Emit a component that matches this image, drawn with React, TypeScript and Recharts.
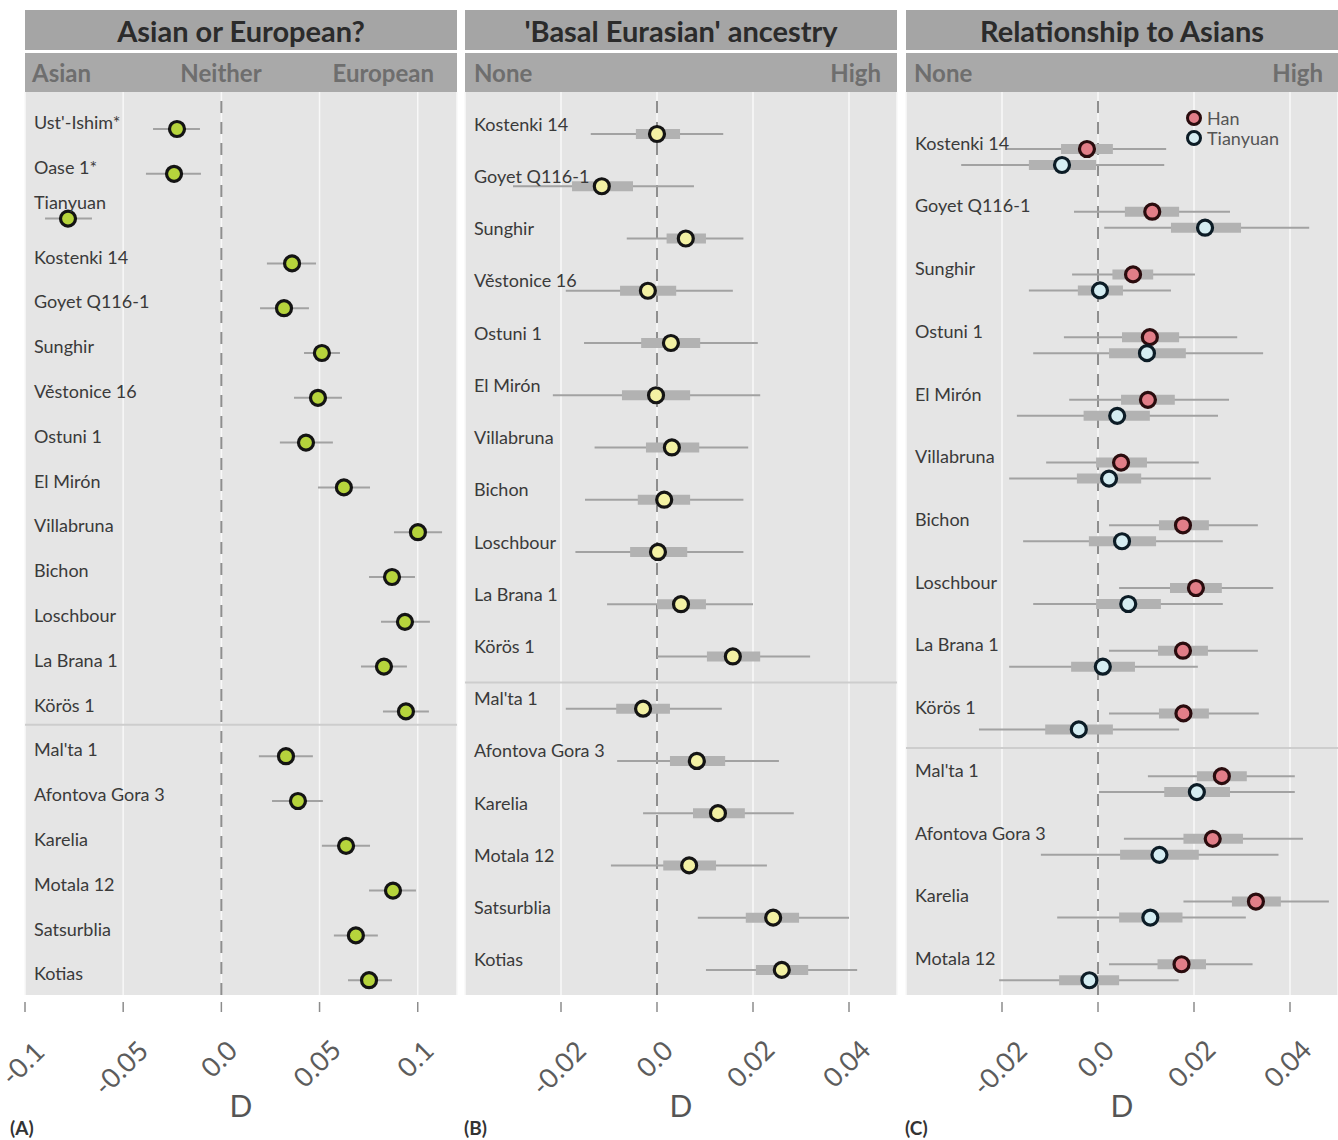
import React from 'react';
import { ScatterChart, Scatter, XAxis, YAxis, CartesianGrid, ReferenceLine, ErrorBar, Legend } from 'recharts';

const FONT = "Lato, 'Open Sans', sans-serif";
const M = 40;
const PLOT_W = 432;
const PLOT_TOP = 92;
const PLOT_H = 903;
const AX_H = 130;

// ---------- Panel A: Asian or European? ----------
const namesA = ["Ust'-Ishim*", 'Oase 1*', 'Tianyuan', 'Kostenki 14', 'Goyet Q116-1', 'Sunghir', 'Věstonice 16', 'Ostuni 1', 'El Mirón', 'Villabruna', 'Bichon', 'Loschbour', 'La Brana 1', 'Körös 1', "Mal'ta 1", 'Afontova Gora 3', 'Karelia', 'Motala 12', 'Satsurblia', 'Kotias'];
const dA = [-0.0226, -0.0241, -0.0781, 0.036, 0.0319, 0.0512, 0.0492, 0.0431, 0.0624, 0.1001, 0.0869, 0.0935, 0.0828, 0.094, 0.0329, 0.039, 0.0635, 0.0874, 0.0685, 0.0752];
const loA = [-0.0348, -0.0384, -0.0898, 0.0232, 0.0197, 0.0421, 0.037, 0.0298, 0.0492, 0.0879, 0.0752, 0.0813, 0.0711, 0.0823, 0.0191, 0.0258, 0.0512, 0.0752, 0.0573, 0.0645];
const hiA = [-0.0109, -0.0104, -0.0659, 0.0482, 0.0446, 0.0604, 0.0614, 0.0568, 0.0757, 0.1124, 0.0986, 0.1062, 0.0945, 0.1057, 0.0466, 0.0517, 0.0757, 0.0991, 0.0797, 0.0869];
const ticksA = [-0.1, -0.05, 0, 0.05, 0.1];
const tickLabelsA = ['-0.1', '-0.05', '0.0', '0.05', '0.1'];

// ---------- Panel B: 'Basal Eurasian' ancestry ----------
const namesB = ['Kostenki 14', 'Goyet Q116-1', 'Sunghir', 'Věstonice 16', 'Ostuni 1', 'El Mirón', 'Villabruna', 'Bichon', 'Loschbour', 'La Brana 1', 'Körös 1', "Mal'ta 1", 'Afontova Gora 3', 'Karelia', 'Motala 12', 'Satsurblia', 'Kotias'];
const dB = [0.0, -0.0115, 0.006, -0.0019, 0.0029, -0.0002, 0.0031, 0.0015, 0.0002, 0.005, 0.0158, -0.0029, 0.0083, 0.0127, 0.0067, 0.0242, 0.026];
const thickLoB = [-0.0044, -0.0177, 0.002, -0.0077, -0.0033, -0.0073, -0.0023, -0.004, -0.0056, 0.0, 0.0104, -0.0085, 0.0027, 0.0075, 0.0013, 0.0185, 0.0206];
const thickHiB = [0.0048, -0.005, 0.0102, 0.004, 0.009, 0.0069, 0.0088, 0.0069, 0.0063, 0.0102, 0.0215, 0.0027, 0.0142, 0.0183, 0.0123, 0.0296, 0.0315];
const thinLoB = [-0.0138, -0.03, -0.0063, -0.019, -0.0152, -0.0217, -0.013, -0.015, -0.017, -0.0104, 0.0, -0.019, -0.0083, -0.0029, -0.0096, 0.0085, 0.0102];
const thinHiB = [0.0138, 0.0077, 0.018, 0.0158, 0.021, 0.0215, 0.019, 0.018, 0.018, 0.02, 0.0319, 0.0135, 0.0254, 0.0285, 0.0229, 0.04, 0.0417];
const ticksBC = [-0.02, 0, 0.02, 0.04];
const tickLabelsBC = ['-0.02', '0.0', '0.02', '0.04'];

// ---------- Panel C: Relationship to Asians ----------
const namesC = ['Kostenki 14', 'Goyet Q116-1', 'Sunghir', 'Ostuni 1', 'El Mirón', 'Villabruna', 'Bichon', 'Loschbour', 'La Brana 1', 'Körös 1', "Mal'ta 1", 'Afontova Gora 3', 'Karelia', 'Motala 12'];
const dHan = [-0.0023, 0.0113, 0.0073, 0.0108, 0.0104, 0.0048, 0.0177, 0.0204, 0.0177, 0.0178, 0.0258, 0.0239, 0.0329, 0.0174];
const thickLoHan = [-0.0077, 0.0056, 0.003, 0.005, 0.0048, -0.0004, 0.0127, 0.015, 0.0125, 0.0127, 0.0206, 0.0178, 0.0279, 0.0124];
const thickHiHan = [0.0031, 0.0169, 0.0115, 0.0169, 0.016, 0.0102, 0.0231, 0.0258, 0.0229, 0.0231, 0.031, 0.0302, 0.0381, 0.0225];
const thinLoHan = [-0.019, -0.005, -0.0054, -0.0071, -0.006, -0.0108, 0.0023, 0.0044, 0.0023, 0.0023, 0.0104, 0.0054, 0.0178, 0.0023];
const thinHiHan = [0.0142, 0.0275, 0.0202, 0.029, 0.0273, 0.021, 0.0333, 0.0365, 0.0333, 0.0335, 0.041, 0.0427, 0.0481, 0.0322];
const dTian = [-0.0075, 0.0223, 0.0004, 0.0102, 0.004, 0.0023, 0.005, 0.0063, 0.001, -0.004, 0.0206, 0.0128, 0.0109, -0.0018];
const thickLoTian = [-0.0144, 0.0152, -0.0042, 0.0023, -0.003, -0.0044, -0.0019, -0.0004, -0.0056, -0.011, 0.0138, 0.0046, 0.0044, -0.0081];
const thickHiTian = [-0.0004, 0.0298, 0.0052, 0.0183, 0.0108, 0.009, 0.0121, 0.0131, 0.0077, 0.0031, 0.0275, 0.021, 0.0176, 0.0044];
const thinLoTian = [-0.0285, 0.0013, -0.0144, -0.0135, -0.0169, -0.0185, -0.0156, -0.0135, -0.0185, -0.0248, 0.0002, -0.0119, -0.0085, -0.0206];
const thinHiTian = [0.0138, 0.044, 0.0152, 0.0344, 0.025, 0.0235, 0.026, 0.026, 0.0208, 0.0169, 0.041, 0.0376, 0.0308, 0.0168];

const seriesNamesC = ['Han', 'Tianyuan'];

// ---------- styles ----------
const COL = {
  strip: '#a5a5a5',
  sub: '#a9a9a9',
  panel: '#e5e5e5',
  thin: '#a2a2a2',
  thick: '#b2b2b2',
  dotA: '#b6d43c',
  dotB: '#f3f1a4',
  han: '#e27e88',
  tian: '#d5edf2',
  ink: '#141414',
};

const buildSimple = (d: number[], lo: number[], hi: number[]) =>
  d.map((v, i) => ({ x: v, y: i, thin: [v - lo[i], hi[i] - v] }));

const buildBox = (d: number[], tLo: number[], tHi: number[], nLo: number[], nHi: number[], shift: number) =>
  d.map((v, i) => ({
    x: v,
    y: i + shift,
    thin: [v - nLo[i], nHi[i] - v],
    thick: [v - tLo[i], tHi[i] - v],
  }));

const rowsA = buildSimple(dA, loA, hiA);
const rowsB = buildBox(dB, thickLoB, thickHiB, thinLoB, thinHiB, 0);
const rowsHan = buildBox(dHan, thickLoHan, thickHiHan, thinLoHan, thinHiHan, 0);
const rowsTian = buildBox(dTian, thickLoTian, thickHiTian, thinLoTian, thinHiTian, 0.255);

const makeXTick = (values: number[], labels: string[]) => (props: any) => {
  const { x, y, payload } = props;
  const idx = values.indexOf(payload.value);
  const label = idx >= 0 ? labels[idx] : String(payload.value);
  const w = label.length * 13;
  const cx = x - 3;
  const cy = y + 44 + (w / 2 + 8) * 0.707;
  return (
    <g>
      <line x1={x} x2={x} y1={y + 7} y2={y + 17} stroke="#8c8c8c" strokeWidth={1.5} />
      <text
        x={cx}
        y={cy}
        transform={`rotate(-45 ${cx} ${cy})`}
        textAnchor="middle"
        dominantBaseline="central"
        fontFamily={FONT}
        fontSize={27}
        fill="#5c5c5c"
      >
        {label}
      </text>
    </g>
  );
};

// label ticks sit a little above each row; extra lift for labels that would touch a point
const makeYTick = (names: string[], offset: number, lift: Record<string, number>) => (props: any) => {
  const { y, payload } = props;
  const idx = Math.round(payload.value + offset);
  const name = names[idx];
  const extra = (lift[name] || 0);
  return (
    <text x={M + 9} y={y - extra} textAnchor="start" dominantBaseline="central" fontFamily={FONT} fontSize={18} fill="#3a3a3a">
      {name}
    </text>
  );
};

const dot = (fill: string, stroke: string) => (props: any) => (
  <circle cx={props.cx} cy={props.cy} r={7.5} fill={fill} stroke={stroke} strokeWidth={3.2} />
);

const legendFill: Record<string, string> = { Han: COL.han, Tianyuan: COL.tian };
const legendStroke: Record<string, string> = { Han: '#2a0c0e', Tianyuan: '#0c1c26' };

const LegendC = (props: any) => (
  <div style={{ fontFamily: FONT, fontSize: 18, color: '#555', lineHeight: '20px' }}>
    {(props.payload || []).map((p: any) => (
      <div key={p.value} style={{ display: 'flex', alignItems: 'center', height: 20 }}>
        <svg width={18} height={20}>
          <circle cx={9} cy={10} r={6.5} fill={legendFill[p.value]} stroke={legendStroke[p.value]} strokeWidth={3} />
        </svg>
        <span style={{ marginLeft: 4 }}>{p.value}</span>
      </div>
    ))}
  </div>
);

type SubItem = { t: string; left?: number; center?: number; right?: number };

const Strips = ({ left, title, sub }: { left: number; title: string; sub: SubItem[] }) => (
  <>
    <div
      style={{
        position: 'absolute',
        left,
        top: 10,
        width: PLOT_W,
        height: 40,
        background: COL.strip,
        display: 'flex',
        alignItems: 'center',
        justifyContent: 'center',
        fontFamily: FONT,
        fontWeight: 700,
        fontSize: 29,
        color: '#2b2b2b',
      }}
    >
      {title}
    </div>
    <div style={{ position: 'absolute', left, top: 53, width: PLOT_W, height: 39, background: COL.sub }}>
      {sub.map((s) => {
        const st: React.CSSProperties = {
          position: 'absolute',
          top: 0,
          lineHeight: '39px',
          fontFamily: FONT,
          fontWeight: 700,
          fontSize: 24,
          color: '#6e6e6e',
          whiteSpace: 'nowrap',
        };
        if (s.left !== undefined) st.left = s.left;
        if (s.right !== undefined) st.right = s.right;
        if (s.center !== undefined) {
          st.left = s.center;
          st.transform = 'translateX(-50%)';
        }
        return (
          <span key={s.t} style={st}>
            {s.t}
          </span>
        );
      })}
    </div>
  </>
);

const Letter = ({ left, t }: { left: number; t: string }) => (
  <div
    style={{
      position: 'absolute',
      left,
      top: 1116,
      fontFamily: FONT,
      fontWeight: 700,
      fontSize: 19,
      color: '#333',
    }}
  >
    {t}
  </div>
);

const axisLabel = { value: 'D', position: 'insideBottom', offset: 8, fontSize: 30, fill: '#555', fontFamily: FONT };

const LEFT_A = 25;
const LEFT_B = 465;
const LEFT_C = 906;
const OFF_A = 0.15;
const OFF_B = 0.2;
const OFF_C = 0.1;
const liftA: Record<string, number> = { Tianyuan: 10 };

const Grid = () => null;

export default function App() {
  const ytA = namesA.map((_, i) => i - OFF_A);
  const ytB = namesB.map((_, i) => i - OFF_B);
  const ytC = namesC.map((_, i) => i - OFF_C);

  return (
    <div style={{ position: 'absolute', left: 0, top: 0, width: 1338, height: 1140, background: '#fff', overflow: 'hidden' }}>
      {/* Panel A */}
      <Strips
        left={LEFT_A}
        title="Asian or European?"
        sub={[
          { t: 'Asian', left: 7 },
          { t: 'Neither', center: 196 },
          { t: 'European', right: 23 },
        ]}
      />
      <div style={{ position: 'absolute', left: LEFT_A - M, top: PLOT_TOP }}>
        <ScatterChart width={PLOT_W + 2 * M} height={PLOT_H + AX_H} margin={{ top: 0, right: M, bottom: 0, left: M }}>
          <CartesianGrid horizontal={false} stroke="#f8f8f8" strokeWidth={1.5} fill={COL.panel} fillOpacity={1} />
          <XAxis
            type="number"
            dataKey="x"
            domain={[-0.1, 0.12]}
            ticks={ticksA}
            interval={0}
            allowDataOverflow
            axisLine={false}
            tickLine={false}
            tickSize={0}
            tickMargin={0}
            height={AX_H}
            tick={makeXTick(ticksA, tickLabelsA)}
            label={axisLabel as any}
          />
          <YAxis
            type="number"
            dataKey="y"
            domain={[-0.826, 19.33]}
            reversed
            allowDataOverflow
            ticks={ytA}
            interval={0}
            mirror
            width={1}
            axisLine={false}
            tickLine={false}
            tickSize={0}
            tick={makeYTick(namesA, OFF_A, liftA)}
          />
          <ReferenceLine x={0} stroke="#8e8e8e" strokeWidth={2} strokeDasharray="12 9" />
          <ReferenceLine y={13.3} stroke="#cdcdcd" strokeWidth={2} />
          <Scatter data={rowsA} isAnimationActive={false} shape={dot(COL.dotA, COL.ink)}>
            <ErrorBar dataKey="thin" direction="x" width={0} stroke={COL.thin} strokeWidth={2} />
          </Scatter>
        </ScatterChart>
      </div>

      {/* Panel B */}
      <Strips
        left={LEFT_B}
        title="'Basal Eurasian' ancestry"
        sub={[
          { t: 'None', left: 9 },
          { t: 'High', right: 16 },
        ]}
      />
      <div style={{ position: 'absolute', left: LEFT_B - M, top: PLOT_TOP }}>
        <ScatterChart width={PLOT_W + 2 * M} height={PLOT_H + AX_H} margin={{ top: 0, right: M, bottom: 0, left: M }}>
          <CartesianGrid horizontal={false} stroke="#f8f8f8" strokeWidth={1.5} fill={COL.panel} fillOpacity={1} />
          <XAxis
            type="number"
            dataKey="x"
            domain={[-0.04, 0.05]}
            ticks={ticksBC}
            interval={0}
            allowDataOverflow
            axisLine={false}
            tickLine={false}
            tickSize={0}
            tickMargin={0}
            height={AX_H}
            tick={makeXTick(ticksBC, tickLabelsBC)}
            label={axisLabel as any}
          />
          <YAxis
            type="number"
            dataKey="y"
            domain={[-0.804, 16.48]}
            reversed
            allowDataOverflow
            ticks={ytB}
            interval={0}
            mirror
            width={1}
            axisLine={false}
            tickLine={false}
            tickSize={0}
            tick={makeYTick(namesB, OFF_B, {})}
          />
          <ReferenceLine x={0} stroke="#8e8e8e" strokeWidth={2} strokeDasharray="12 9" />
          <ReferenceLine y={10.5} stroke="#cdcdcd" strokeWidth={2} />
          <Scatter data={rowsB} isAnimationActive={false} shape={dot(COL.dotB, COL.ink)}>
            <ErrorBar dataKey="thin" direction="x" width={0} stroke={COL.thin} strokeWidth={2} />
            <ErrorBar dataKey="thick" direction="x" width={0} stroke={COL.thick} strokeWidth={10} />
          </Scatter>
        </ScatterChart>
      </div>

      {/* Panel C */}
      <Strips
        left={LEFT_C}
        title="Relationship to Asians"
        sub={[
          { t: 'None', left: 8 },
          { t: 'High', right: 15 },
        ]}
      />
      <div style={{ position: 'absolute', left: LEFT_C - M, top: PLOT_TOP }}>
        <ScatterChart width={PLOT_W + 2 * M} height={PLOT_H + AX_H} margin={{ top: 0, right: M, bottom: 0, left: M }}>
          <CartesianGrid horizontal={false} stroke="#f8f8f8" strokeWidth={1.5} fill={COL.panel} fillOpacity={1} />
          <XAxis
            type="number"
            dataKey="x"
            domain={[-0.04, 0.05]}
            ticks={ticksBC}
            interval={0}
            allowDataOverflow
            axisLine={false}
            tickLine={false}
            tickSize={0}
            tickMargin={0}
            height={AX_H}
            tick={makeXTick(ticksBC, tickLabelsBC)}
            label={axisLabel as any}
          />
          <YAxis
            type="number"
            dataKey="y"
            domain={[-0.909, 13.49]}
            reversed
            allowDataOverflow
            ticks={ytC}
            interval={0}
            mirror
            width={1}
            axisLine={false}
            tickLine={false}
            tickSize={0}
            tick={makeYTick(namesC, OFF_C, {})}
          />
          <ReferenceLine x={0} stroke="#8e8e8e" strokeWidth={2} strokeDasharray="12 9" />
          <ReferenceLine y={9.55} stroke="#cdcdcd" strokeWidth={2} />
          <Legend
            layout="vertical"
            align="center"
            verticalAlign="middle"
            wrapperStyle={{ left: 319, top: 16, width: 'auto' }}
            content={LegendC}
          />
          <Scatter name={seriesNamesC[0]} data={rowsHan} fill={COL.han} isAnimationActive={false} shape={dot(COL.han, '#2a0c0e')}>
            <ErrorBar dataKey="thin" direction="x" width={0} stroke={COL.thin} strokeWidth={2} />
            <ErrorBar dataKey="thick" direction="x" width={0} stroke={COL.thick} strokeWidth={10} />
          </Scatter>
          <Scatter name={seriesNamesC[1]} data={rowsTian} fill={COL.tian} isAnimationActive={false} shape={dot(COL.tian, '#0c1c26')}>
            <ErrorBar dataKey="thin" direction="x" width={0} stroke={COL.thin} strokeWidth={2} />
            <ErrorBar dataKey="thick" direction="x" width={0} stroke={COL.thick} strokeWidth={10} />
          </Scatter>
        </ScatterChart>
      </div>

      <Letter left={10} t="(A)" />
      <Letter left={464} t="(B)" />
      <Letter left={905} t="(C)" />
      <Grid />
    </div>
  );
}
